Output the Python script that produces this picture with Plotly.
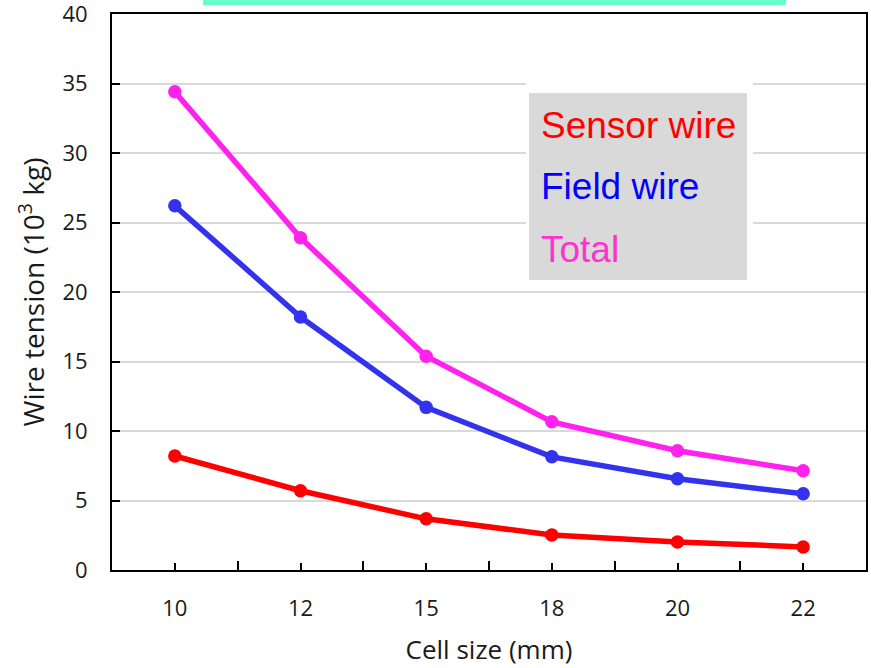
import plotly.graph_objects as go

# Cell size categories (mm) and wire tension in units of 10^3 kg
cell_sizes = ["10", "12", "15", "18", "20", "22"]
sensor_wire = [8.2, 5.7, 3.68, 2.52, 2.02, 1.66]
field_wire = [26.2, 18.2, 11.7, 8.14, 6.56, 5.48]
total = [34.4, 23.9, 15.38, 10.66, 8.58, 7.14]

series_names = ["Sensor wire", "Field wire", "Total"]
line_colors = ["#FF0000", "#3333EE", "#FF22EE"]
label_colors = ["#FF0000", "#0000FF", "#FF33CC"]

y_ticks = [0, 5, 10, 15, 20, 25, 30, 35, 40]

pos = list(range(len(cell_sizes)))

fig = go.Figure()
for name, vals, col in zip(series_names, [sensor_wire, field_wire, total], line_colors):
    fig.add_trace(go.Scatter(
        x=pos, y=vals, name=name, mode="lines+markers",
        line=dict(color=col, width=5.5),
        marker=dict(color=col, size=13.5),
        showlegend=False,
    ))

W, H = 871, 668
ml, mr, mt, mb = 112, 5, 14, 98
pw, ph = W - ml - mr, H - mt - mb


def px_x(p):
    return (p - ml) / pw


def px_y(p):
    return (H - mb - p) / ph


shapes = [
    # accent bar above the plot
    dict(type="rect", xref="paper", yref="paper",
         x0=px_x(203), x1=px_x(786), y0=px_y(5), y1=px_y(0),
         fillcolor="#66FFCC", line=dict(width=0), layer="above"),
    # white margin around the key box
    dict(type="rect", xref="paper", yref="paper",
         x0=px_x(526), x1=px_x(753), y0=px_y(287), y1=px_y(81),
         fillcolor="white", line=dict(width=0), layer="above"),
    # grey key box
    dict(type="rect", xref="paper", yref="paper",
         x0=px_x(529), x1=px_x(747), y0=px_y(280), y1=px_y(93),
         fillcolor="#D9D9D9", line=dict(width=0), layer="above"),
]

annotations = []
for name, col, cy in zip(series_names, label_colors, [126, 187, 249]):
    annotations.append(dict(
        text=name, xref="paper", yref="paper", x=px_x(539), y=px_y(cy),
        xanchor="left", yanchor="middle", showarrow=False,
        font=dict(family="Liberation Sans, Arial", size=37, color=col),
    ))

axis_font = dict(family="Open Sans", size=22, color="#1a1a1a")
title_font = dict(family="Open Sans", size=26, color="#1a1a1a")

fig.update_layout(
    width=W, height=H,
    margin=dict(l=ml, r=mr, t=mt, b=mb),
    paper_bgcolor="white", plot_bgcolor="white",
    shapes=shapes, annotations=annotations,
    xaxis=dict(
        range=[-0.5, len(cell_sizes) - 0.5], automargin=False,
        tickmode="array", tickvals=pos, ticktext=cell_sizes,
        ticks="inside", ticklen=7, tickwidth=2, tickcolor="black",
        minor=dict(tickmode="linear", tick0=0.5, dtick=1, ticks="inside",
                   ticklen=9, tickwidth=2, tickcolor="black"),
        showgrid=False, zeroline=False,
        showline=True, linecolor="black", linewidth=2, mirror=True,
        tickfont=axis_font, ticklabelstandoff=18,
        title=dict(text="Cell size (mm)", font=title_font, standoff=19),
    ),
    yaxis=dict(
        range=[0, 40], automargin=False, tickmode="array", tickvals=y_ticks,
        ticks="inside", ticklen=8, tickwidth=2, tickcolor="black",
        showgrid=True, gridcolor="#D9D9D9", gridwidth=2,
        zeroline=False, ticklabeloverflow="allow",
        showline=True, linecolor="black", linewidth=2, mirror=True,
        tickfont=axis_font, ticklabelstandoff=18,
        title=dict(text="Wire tension (10<sup>3</sup> kg)",
                   font=dict(family="Open Sans", size=28, color="#1a1a1a"),
                   standoff=10),
    ),
)

fig.write_html("out.html")
